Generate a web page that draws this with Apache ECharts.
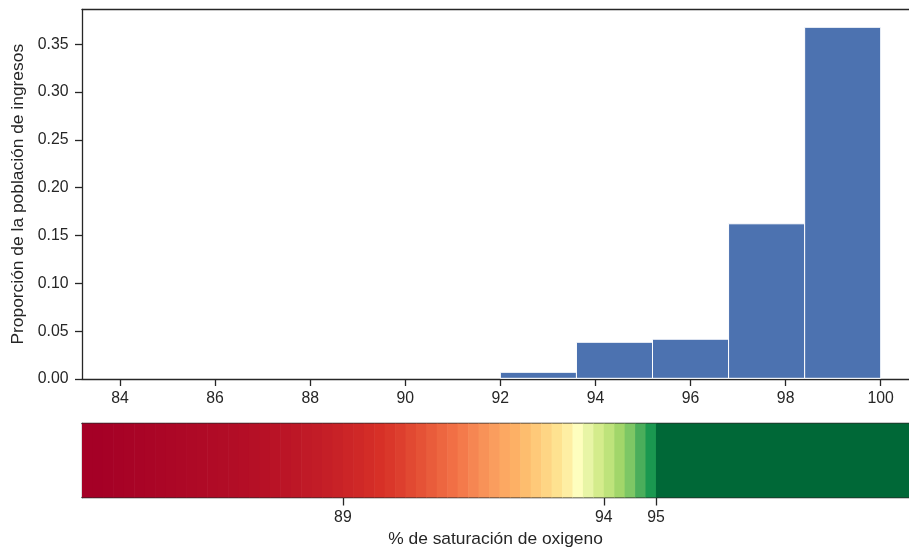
<!DOCTYPE html>
<html>
<head>
<meta charset="utf-8">
<script src="https://cdn.jsdelivr.net/npm/echarts@6/dist/echarts.min.js"></script>
<style>html,body{margin:0;padding:0;background:#fff}#c{width:909px;height:552px}</style>
</head>
<body>
<div id="c"></div>
<script>
// Histogram data
var binStarts = [84, 85.6, 87.2, 88.8, 90.4, 92.0, 93.6, 95.2, 96.8, 98.4];
var binEnds   = [85.6, 87.2, 88.8, 90.4, 92.0, 93.6, 95.2, 96.8, 98.4, 100];
var binValues = [0, 0, 0, 0, 0, 0.0070, 0.0384, 0.0416, 0.1623, 0.3678];
var xTicks = [84, 86, 88, 90, 92, 94, 96, 98, 100];
var yTicks = [0, 0.05, 0.10, 0.15, 0.20, 0.25, 0.30, 0.35];

// Colorbar
var cbStarts = [84.0,84.2,84.4,84.6,84.8,85.0,85.2,85.4,85.6,85.8,86.0,86.2,86.4,86.6,86.8,87.0,87.2,87.4,87.6,87.8,88.0,88.2,88.4,88.6,88.8,89.0,89.2,89.4,89.6,89.8,90.0,90.2,90.4,90.6,90.8,91.0,91.2,91.4,91.6,91.8,92.0,92.2,92.4,92.6,92.8,93.0,93.2,93.4,93.6,93.8,94.0,94.2,94.4,94.6,94.8,95.0];
var cbEnds = [84.2,84.4,84.6,84.8,85.0,85.2,85.4,85.6,85.8,86.0,86.2,86.4,86.6,86.8,87.0,87.2,87.4,87.6,87.8,88.0,88.2,88.4,88.6,88.8,89.0,89.2,89.4,89.6,89.8,90.0,90.2,90.4,90.6,90.8,91.0,91.2,91.4,91.6,91.8,92.0,92.2,92.4,92.6,92.8,93.0,93.2,93.4,93.6,93.8,94.0,94.2,94.4,94.6,94.8,95.0,100.0];
var cbColors = ['#a50026','#a50026','#a60126','#a70226','#a80326','#a90426','#aa0526','#ab0626','#ac0726','#ad0826','#ae0926','#af0a26','#b00b26','#b10c26','#b20d26','#b40e26','#b51026','#b71126','#b91326','#bb1526','#bd1726','#c01a27','#c21c27','#c51f27','#c82227','#cc2527','#cf2827','#d32c27',
 '#d73027','#da372a','#dd3f2e','#e14932','#e55236','#e95c3b','#ed6640','#f16f45','#f47a4b','#f68652','#f89258','#fa9d5e','#fca862','#fdb065','#fdbd6e','#fec979','#fed584','#fee290','#feeea3','#fefebe','#e8f5a6','#d4ec8c','#bee37b','#a2d66a','#7dc765','#4aae5b','#1a9850','#006837'];
var cbTicks = [89, 94, 95];

var FONT = 'Liberation Sans, Arial, sans-serif';
var TXT = '#262626';
var TICK_FS = 15.8, LABEL_FS = 17.4;

var histData = binStarts.map(function(s, i){ return [s, binEnds[i], binValues[i]]; });
var cbData = cbStarts.map(function(s, i){ return [s, cbEnds[i], i]; });

var lineOnly = {axisLine: {show: true, lineStyle: {color: TXT, width: 1.3}}, axisTick: {show: false}, axisLabel: {show: false}, splitLine: {show: false}};

var chart = echarts.init(document.getElementById('c'), null, {renderer: 'canvas'});
chart.setOption({
  animation: false,
  backgroundColor: '#fff',
  grid: [
    {left: 82, top: 9.5, width: 827, height: 369.5, show: false, containLabel: false},
    {left: 82, top: 423.5, width: 827, height: 74, show: false, containLabel: false}
  ],
  xAxis: [
    {type: 'value', gridIndex: 0, min: 83.2, max: 100.595,
     axisLine: {show: true, lineStyle: {color: TXT, width: 1.3}},
     axisTick: {show: true, length: 7, lineStyle: {color: TXT, width: 1.3}, customValues: xTicks},
     axisLabel: {color: TXT, fontFamily: FONT, fontSize: TICK_FS, margin: 12, customValues: xTicks},
     splitLine: {show: false}},
    {type: 'value', gridIndex: 1, min: 84, max: 99.85,
     name: '% de saturación de oxigeno', nameLocation: 'middle', nameGap: 33,
     nameTextStyle: {color: TXT, fontFamily: FONT, fontSize: LABEL_FS},
     axisLine: {show: true, lineStyle: {color: TXT, width: 1.3}},
     axisTick: {show: true, length: 8, lineStyle: {color: TXT, width: 1.3}, customValues: cbTicks},
     axisLabel: {color: TXT, fontFamily: FONT, fontSize: TICK_FS, margin: 12, customValues: cbTicks},
     splitLine: {show: false}},
    Object.assign({type: 'value', gridIndex: 0, min: 83.2, max: 100.595, position: 'top'}, lineOnly),
    Object.assign({type: 'value', gridIndex: 1, min: 84, max: 99.85, position: 'top'}, lineOnly)
  ],
  yAxis: [
    {type: 'value', gridIndex: 0, min: 0, max: 0.3864,
     name: 'Proporción de la población de ingresos', nameLocation: 'middle', nameGap: 55,
     nameTextStyle: {color: TXT, fontFamily: FONT, fontSize: LABEL_FS},
     axisLine: {show: true, lineStyle: {color: TXT, width: 1.3}},
     axisTick: {show: true, length: 7, lineStyle: {color: TXT, width: 1.3}, customValues: yTicks},
     axisLabel: {color: TXT, fontFamily: FONT, fontSize: TICK_FS, margin: 13.5, customValues: yTicks,
                 formatter: function(v){ return v.toFixed(2); }},
     splitLine: {show: false}},
    Object.assign({type: 'value', gridIndex: 1, min: 0, max: 1}, lineOnly)
  ],
  series: [
    {type: 'custom', xAxisIndex: 1, yAxisIndex: 1, data: cbData, z: 1,
     renderItem: function(params, api){
       var p0 = api.coord([api.value(0), 1]);
       var p1 = api.coord([api.value(1), 0]);
       return {type: 'rect', shape: {x: p0[0], y: p0[1], width: p1[0]-p0[0] + 0.6, height: p1[1]-p0[1]},
               style: {fill: cbColors[api.value(2)]}};
     }},
    {type: 'custom', xAxisIndex: 0, yAxisIndex: 0, data: histData, z: 2,
     renderItem: function(params, api){
       if (!(api.value(2) > 0)) return null;
       var p0 = api.coord([api.value(0), api.value(2)]);
       var p1 = api.coord([api.value(1), 0]);
       return {type: 'rect', shape: {x: p0[0], y: p0[1], width: p1[0]-p0[0], height: p1[1]-p0[1] - 0.7},
               style: {fill: '#4c72b0', stroke: '#ffffff', lineWidth: 1}};
     }}
  ]
});
</script>
</body>
</html>
